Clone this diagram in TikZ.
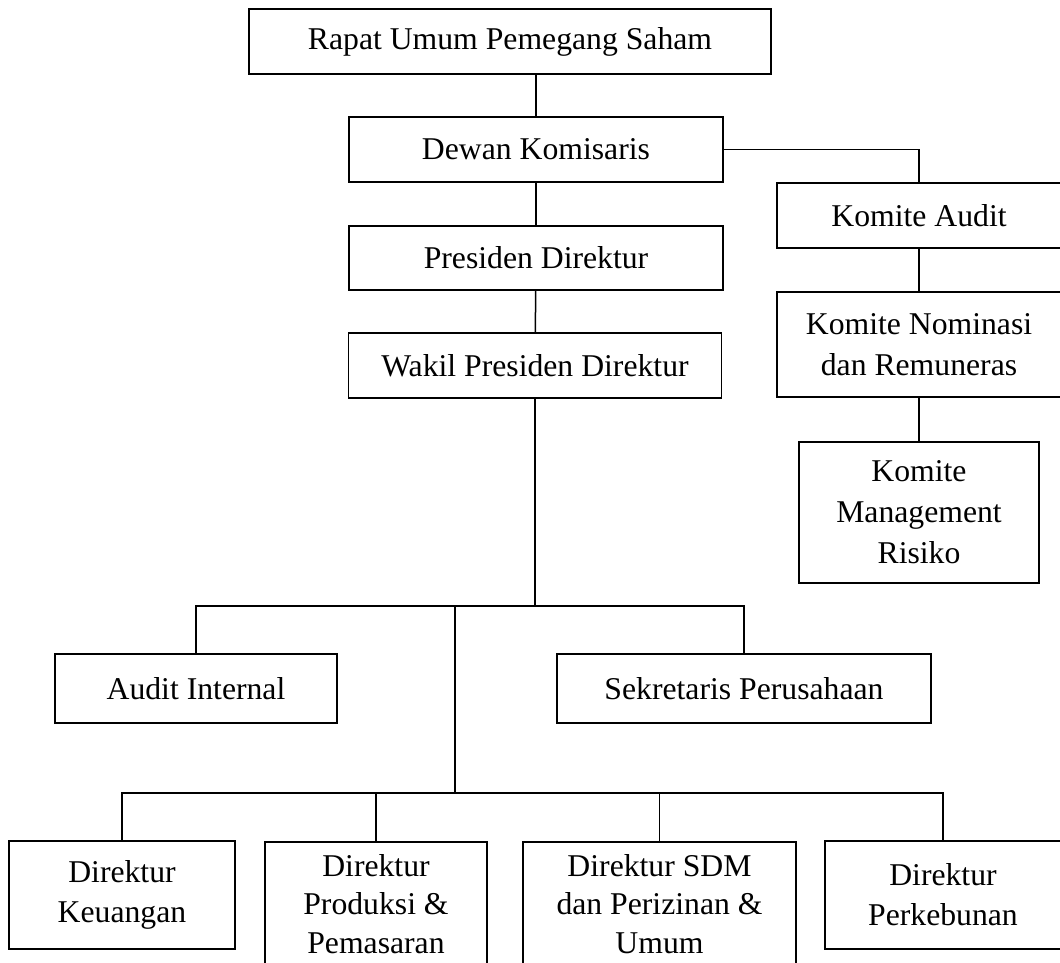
\documentclass[tikz,border=0pt]{standalone}
\usepackage{fontspec}
\setmainfont{Liberation Serif}
\usetikzlibrary{positioning}

\begin{document}
\begin{tikzpicture}[
  x=1pt, y=1pt,
  font=\fontsize{31.7}{41}\selectfont,
  box/.style={draw=black, line width=1.6pt, align=center, inner sep=0pt, fill=white},
  tallbox/.style={box, font=\fontsize{31.7}{38.5}\selectfont, anchor=north, minimum height=124},
  link/.style={draw=black, line width=1.5pt}
]
\useasboundingbox (0,0) rectangle (1060,-962);

\node[box,minimum width=522,minimum height=65] (rups) at (510,-41.5) {Rapat Umum Pemegang Saham};

\node[box,minimum width=374,minimum height=65] (dewan) at (536,-149.5) {Dewan Komisaris};

\node[box,minimum width=374,minimum height=64] (presiden) at (536,-258) {Presiden Direktur};

\node[box,minimum width=373,minimum height=65] (wakil) at (535,-365.5) {Wakil Presiden Direktur};

\node[box,minimum width=284,minimum height=65] (komaudit) at (919,-215.5) {Komite Audit};

\node[box,minimum width=284,minimum height=105] (nominasi) at (919,-344.5) {
  Komite Nominasi\\
  dan Remuneras
};

\node[box,minimum width=240,minimum height=141] (risiko) at (919,-512.5) {
  Komite\\
  Management\\
  Risiko
};

\node[box,minimum width=282,minimum height=69] (auditint) at (196,-688.5) {Audit Internal};

\node[box,minimum width=374,minimum height=69] (sekretaris) at (744,-688.5) {Sekretaris Perusahaan};

\node[box,font=\fontsize{31.7}{40}\selectfont,minimum width=226,minimum height=108] (keuangan) at (122,-895) {
  Direktur\\
  Keuangan
};

\node[tallbox,minimum width=222] (produksi) at (376,-841) {
  Direktur\\
  Produksi \&\\
  Pemasaran
};

\node[tallbox,minimum width=273] (sdm) at (659.5,-841) {
  Direktur SDM\\
  dan Perizinan \&\\
  Umum
};

\node[box,font=\fontsize{31.7}{40}\selectfont,minimum width=236,minimum height=108] (perkebunan) at (943,-895) {
  Direktur\\
  Perkebunan
};

\coordinate (busstaff) at (0,-606);
\coordinate (busdir) at (0,-793);
\coordinate (split) at (455,-606);

\draw[link] (rups.south -| dewan.north) -- (dewan.north);
\draw[link] (dewan) -- (presiden);
\draw[link] (presiden) -- (wakil);
\draw[link] (dewan.east) -| (komaudit.north);
\draw[link] (komaudit) -- (nominasi);
\draw[link] (nominasi) -- (risiko);
\draw[link] (wakil.south) -- (wakil.south |- busstaff);
\draw[link] (auditint.north) |- (sekretaris.north |- busstaff) -- (sekretaris.north);
\draw[link] (split) -- (split |- busdir);
\draw[link] (keuangan.north) |- (perkebunan.north |- busdir) -- (perkebunan.north);
\draw[link] (produksi.north) -- (produksi.north |- busdir);
\draw[link] (sdm.north) -- (sdm.north |- busdir);

\end{tikzpicture}
\end{document}
